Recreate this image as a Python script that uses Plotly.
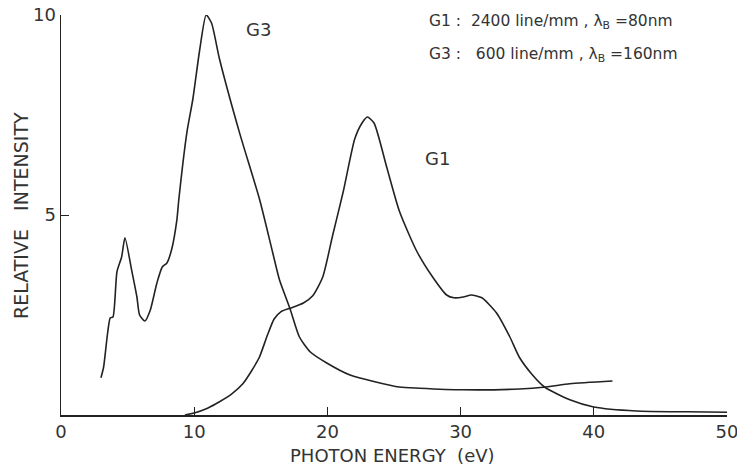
import plotly.graph_objects as go

# G3 grating curve (600 line/mm)
g3_energy = [3.0, 3.2, 3.5, 3.7, 3.9, 4.2, 4.55, 4.8, 5.3, 5.7, 5.9, 6.3, 6.7, 7.2, 7.6, 7.95,
             8.3, 8.7, 8.85, 9.45, 9.9, 10.4, 10.9, 11.3, 11.9, 13.4, 14.9, 15.9, 16.4, 17.2,
             17.9, 18.7, 19.95, 21.7, 25.4, 26.9, 30.2, 34.4, 36.4, 38.2, 41.4]
g3_intensity = [0.93, 1.2, 2.05, 2.43, 2.45, 3.58, 3.95, 4.43, 3.63, 2.95, 2.5, 2.35, 2.62, 3.3,
                3.7, 3.8, 4.13, 4.88, 5.4, 7.06, 7.9, 9.1, 10.0, 9.8, 8.9, 7.06, 5.4, 4.05, 3.38,
                2.65, 1.95, 1.58, 1.3, 1.0, 0.7, 0.67, 0.63, 0.65, 0.7, 0.78, 0.85]

# G1 grating curve (2400 line/mm)
g1_energy = [9.3, 10.0, 11.0, 11.9, 12.8, 13.65, 14.3, 14.9, 15.5, 16.0, 16.5, 17.2, 18.2, 18.9,
             19.65, 20.4, 21.2, 22.05, 22.6, 23.0, 23.5, 24.45, 25.4, 26.7, 27.9, 28.95, 29.5,
             30.2, 30.8, 31.6, 32.7, 33.7, 34.4, 35.4, 36.3, 38.2, 40.0, 43.2, 47.0, 50.0]
g1_intensity = [0.0, 0.05, 0.17, 0.33, 0.52, 0.78, 1.1, 1.45, 2.0, 2.4, 2.58, 2.67, 2.8, 2.98,
                3.45, 4.5, 5.6, 6.9, 7.3, 7.45, 7.3, 6.2, 5.1, 4.1, 3.45, 3.0, 2.93, 2.95, 3.0,
                2.93, 2.55, 1.95, 1.45, 1.0, 0.7, 0.38, 0.2, 0.1, 0.08, 0.07]

x_ticks = [0, 10, 20, 30, 40, 50]
y_ticks = [5, 10]

font_family = "DejaVu Sans, Liberation Sans, sans-serif"
ink = "#222222"
text_col = "#333333"

W, H = 737, 472
L, R, T, B = 61, 10, 15, 57

fig = go.Figure()
for xs, ys in [(g3_energy, g3_intensity), (g1_energy, g1_intensity)]:
    fig.add_trace(go.Scatter(x=xs, y=ys, mode="lines",
                             line=dict(color=ink, width=1.6, shape="spline", smoothing=0.6),
                             showlegend=False, hoverinfo="skip"))

fig.update_layout(
    width=W, height=H,
    margin=dict(l=L, r=R, t=T, b=B),
    paper_bgcolor="white", plot_bgcolor="white",
    font=dict(family=font_family, color=text_col),
    xaxis=dict(range=[0, 50], tickvals=x_ticks, ticks="inside", ticklen=8, tickcolor=ink,
               showline=True, linecolor=ink, linewidth=1.5, showgrid=False, zeroline=False,
               automargin=False, ticklabeloverflow="allow",
               tickfont=dict(size=18, color=text_col)),
    yaxis=dict(range=[0, 10], tickvals=y_ticks, ticks="inside", ticklen=8, tickcolor=ink,
               showline=True, linecolor=ink, linewidth=1.5, showgrid=False, zeroline=False,
               automargin=False, ticklabeloverflow="allow",
               tickfont=dict(size=18, color=text_col)),
)

def px(xp, yp):
    # screen pixel position -> paper coordinates
    return (xp - L) / (W - L - R), (H - B - yp) / (H - B - T)

anns = []
for text, xp, yp, anchor, size, angle in [
    ("G3", 258, 30, "center", 18, 0),
    ("G1", 437, 158, "center", 18, 0),
    ("G1 :  2400 line/mm , λ<sub>B</sub> =80nm", 427, 22, "left", 15.5, 0),
    ("G3 :   600 line/mm , λ<sub>B</sub> =160nm", 427, 55, "left", 15.5, 0),
    ("PHOTON ENERGY  (eV)", 392, 455, "center", 18, 0),
    ("RELATIVE   INTENSITY", 21, 216, "center", 19, -90),
]:
    ax, ay = px(xp, yp)
    anns.append(dict(x=ax, y=ay, xref="paper", yref="paper", text=text, showarrow=False,
                     xanchor=anchor, yanchor="middle", textangle=angle,
                     font=dict(size=size, color=text_col, family=font_family)))
fig.update_layout(annotations=anns)

fig.write_html("out.html",
               config={"displayModeBar": False, "staticPlot": True},
               post_script="document.body.style.margin='0';document.body.style.overflow='hidden';")
